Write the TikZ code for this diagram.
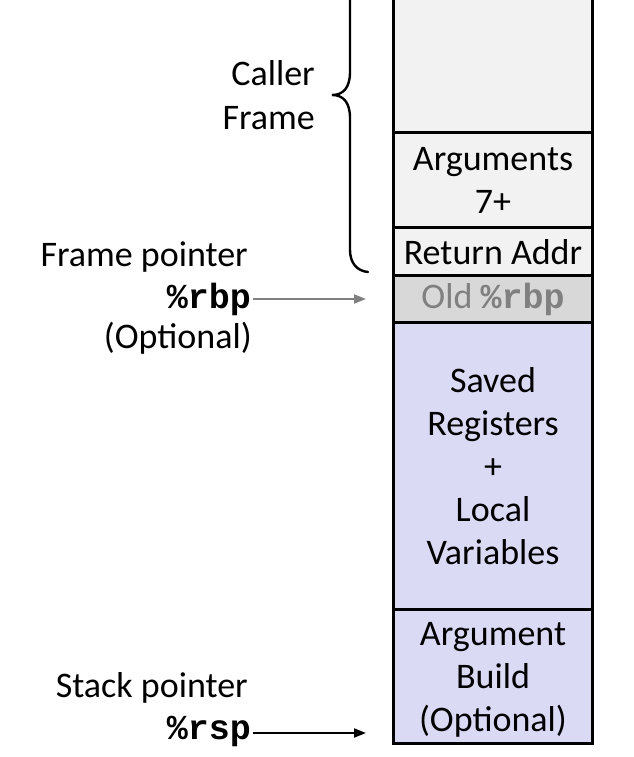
\documentclass[tikz,border=0pt]{standalone}
\usepackage{fontspec}
\setmainfont{Carlito}
\setmonofont{Liberation Mono}
\usetikzlibrary{arrows.meta}
\definecolor{topfill}{RGB}{242,242,242}
\definecolor{oldfill}{RGB}{216,216,216}
\definecolor{lav}{RGB}{218,218,245}
\definecolor{oldtxt}{RGB}{128,128,128}
\definecolor{arrgray}{RGB}{128,128,128}
\tikzset{
  txt/.style={font=\fontsize{36}{43}\selectfont, inner sep=0pt},
  mono/.style={font=\fontsize{35}{43}\selectfont\ttfamily\bfseries, inner sep=0pt},
  seg/.style={minimum width=198pt, inner sep=0pt, align=center, font=\fontsize{36}{43}\selectfont},
  border/.style={line width=3pt, line join=miter, line cap=rect},
  ptrarrow/.style={line width=2pt, -{Triangle[length=12pt,width=9pt]}},
  bracestyle/.style={line width=2.4pt, line cap=round}
}
\begin{document}
\begin{tikzpicture}[x=1pt,y=-1pt]
\useasboundingbox (0,0) rectangle (633,757);
% segments
\node[seg, fill=topfill, minimum height=133pt] (caller) at (493,66.5) {};
\node[seg, fill=topfill, minimum height=95pt] (args) at (493,180.5) {Arguments\\7+};
\node[seg, fill=topfill, minimum height=48pt] (ret) at (493,252) {Return Addr};
\node[seg, fill=oldfill, minimum height=47pt, text=oldtxt] (old) at (493,299.5) {Old {\ttfamily\bfseries\fontsize{35}{43}\selectfont \%rbp}};
\node[seg, fill=lav, minimum height=287pt] (saved) at (493,466.5) {Saved\\Registers\\+\\Local\\Variables};
\node[seg, fill=lav, minimum height=133pt] (build) at (493,676.5) {};
\node[seg, minimum width=0pt] (buildtxt) at (493,679.5) {Argument\\Build\\(Optional)};
% borders
\draw[border] ([yshift=10pt]caller.north west) -- (build.south west) -- (build.south east) -- ([yshift=10pt]caller.north east);
\draw[border] (args.north west) -- (args.north east);
\draw[border] (ret.north west) -- (ret.north east);
\draw[border] (old.north west) -- (old.north east);
\draw[border] (saved.north west) -- (saved.north east);
\draw[border] (build.north west) -- (build.north east);
% caller frame brace
\draw[bracestyle] (350,-10) -- (350,72) .. controls (350,88) and (343,95) .. (332,95)
  .. controls (343,95) and (350,102) .. (350,118) -- (350,250)
  .. controls (350,263) and (357,271) .. (368,272);
\node[txt, anchor=base east] (callerlbl) at (315,86) {Caller};
\node[txt, anchor=base east] (framelbl) at (315,129) {Frame};
% frame pointer
\node[txt, anchor=base east] (fplbl) at (248,266) {Frame pointer};
\node[mono, anchor=base east] (rbp) at (251,308) {\%rbp};
\node[txt, anchor=base east] (fpopt) at (252,348) {(Optional)};
\coordinate (rbptip) at (366,299);
\draw[ptrarrow, draw=arrgray, fill=arrgray] ([xshift=2pt]rbp.east |- rbptip) -- (rbptip);
% stack pointer
\node[txt, anchor=base east] (splbl) at (248,697) {Stack pointer};
\node[mono, anchor=base east] (rsp) at (251,739) {\%rsp};
\coordinate (rsptip) at (366,733);
\draw[ptrarrow] ([xshift=2pt]rsp.east |- rsptip) -- (rsptip);
\end{tikzpicture}
\end{document}
